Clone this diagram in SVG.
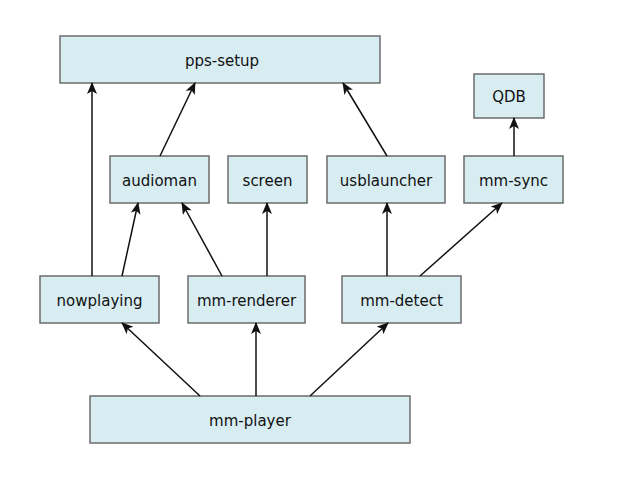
<svg xmlns="http://www.w3.org/2000/svg" width="640" height="480" viewBox="0 0 640 480">
<defs>
<style>
.n rect{fill:#d8edf2;stroke:#6b6b6b;stroke-width:1.5}
.n text{font-family:"DejaVu Sans","Open Sans",sans-serif;font-size:15px;fill:#111;text-anchor:middle;dominant-baseline:central}
.c line{stroke:#111;stroke-width:1.5;marker-end:url(#ah)}
</style>
<marker id="ah" viewBox="0 0 12 10" refX="11" refY="5" markerWidth="13" markerHeight="10" markerUnits="userSpaceOnUse" orient="auto">
<path d="M0,0 L12,5 L0,10 L3,5 Z" fill="#111"/>
</marker>
</defs>
<rect width="640" height="480" fill="#fff"/>
<g id="pps-setup" class="n"><rect x="60" y="36" width="320" height="47"/><text x="222" y="61">pps-setup</text></g>
<g id="qdb" class="n"><rect x="474" y="74" width="70" height="44"/><text x="509" y="97">QDB</text></g>
<g id="audioman" class="n"><rect x="110" y="156" width="99" height="47"/><text x="159.5" y="181">audioman</text></g>
<g id="screen" class="n"><rect x="228" y="156" width="79" height="47"/><text x="267.5" y="181">screen</text></g>
<g id="usblauncher" class="n"><rect x="327" y="156" width="118" height="47"/><text x="386" y="181">usblauncher</text></g>
<g id="mm-sync" class="n"><rect x="464" y="156" width="99" height="47"/><text x="513.5" y="181">mm-sync</text></g>
<g id="nowplaying" class="n"><rect x="40" y="276" width="119" height="47"/><text x="99.5" y="301">nowplaying</text></g>
<g id="mm-renderer" class="n"><rect x="188" y="276" width="117" height="47"/><text x="246.5" y="301">mm-renderer</text></g>
<g id="mm-detect" class="n"><rect x="342" y="276" width="119" height="47"/><text x="401.5" y="301">mm-detect</text></g>
<g id="mm-player" class="n"><rect x="90" y="396" width="320" height="47"/><text x="250" y="421">mm-player</text></g>
<g id="connectors" class="c">
<line x1="92" y1="276" x2="92" y2="83"/>
<line x1="122" y1="276" x2="138" y2="203"/>
<line x1="222" y1="276" x2="182" y2="203"/>
<line x1="267" y1="276" x2="267" y2="203"/>
<line x1="160" y1="156" x2="195" y2="83"/>
<line x1="387" y1="156" x2="343" y2="83"/>
<line x1="387" y1="276" x2="387" y2="203"/>
<line x1="420" y1="276" x2="502" y2="203"/>
<line x1="514" y1="156" x2="514" y2="118"/>
<line x1="200" y1="396" x2="122" y2="323"/>
<line x1="256" y1="396" x2="256" y2="323"/>
<line x1="310" y1="396" x2="388" y2="323"/>
</g>
</svg>
